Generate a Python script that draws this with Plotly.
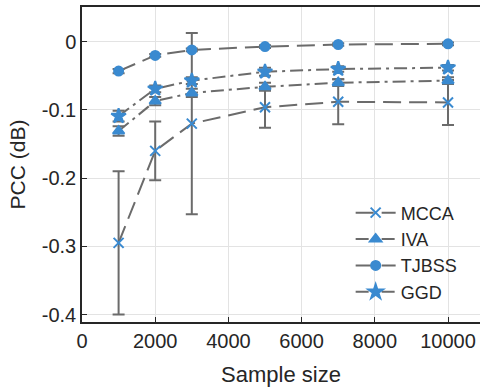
import plotly.graph_objects as go

sample_sizes = [1000, 2000, 3000, 5000, 7000, 10000]

mcca = [-0.295, -0.160, -0.120, -0.096, -0.088, -0.089]
mcca_err = [0.105, 0.043, 0.133, 0.030, 0.033, 0.033]

iva = [-0.131, -0.087, -0.075, -0.066, -0.060, -0.057]
iva_err = [0.007, 0.006, 0.006, 0.006, 0.005, 0.005]

tjbss = [-0.043, -0.020, -0.012, -0.007, -0.004, -0.003]
tjbss_err = [0.003, 0.002, 0.002, 0.002, 0.002, 0.002]

ggd = [-0.109, -0.069, -0.057, -0.044, -0.040, -0.038]
ggd_err = [0.008, 0.005, 0.005, 0.006, 0.004, 0.004]

y_ticks = [0, -0.1, -0.2, -0.3, -0.4]
y_tick_labels = ["0", "-0.1", "-0.2", "-0.3", "-0.4"]
x_ticks = [0, 2000, 4000, 6000, 8000, 10000]
x_tick_labels = ["0", "2000", "4000", "6000", "8000", "10000"]

BLUE = "#3a8ad0"
GRAY = "#6b6b6b"
DASH = "18px,8px"
DASHDOT = "13px,5px,3px,5px"

series = [
    ("MCCA", mcca, mcca_err, "x-thin-open", 10, DASH),
    ("IVA", iva, iva_err, "triangle-up", 10, DASHDOT),
    ("TJBSS", tjbss, tjbss_err, "circle", 9, DASH),
    ("GGD", ggd, ggd_err, "star", 11, DASHDOT),
]

fig = go.Figure()
for name, vals, errs, sym, size, dash in series:
    fig.add_trace(go.Scatter(
        x=sample_sizes, y=vals, name=name, mode="lines+markers",
        line=dict(color=GRAY, width=2, dash=dash),
        marker=dict(symbol=sym, size=size, color=BLUE,
                    line=dict(color=BLUE, width=2)),
        error_y=dict(type="data", array=errs, visible=True,
                     color=GRAY, thickness=2, width=6),
    ))

font_family = "Liberation Sans, Arial, sans-serif"
fig.update_layout(
    width=480, height=387,
    margin=dict(l=82, r=0, t=7, b=65),
    paper_bgcolor="white", plot_bgcolor="white",
    font=dict(family=font_family, size=20, color="#262626"),
    showlegend=True,
    legend=dict(x=0.675, y=0.405, xanchor="left", yanchor="top",
                bgcolor="rgba(0,0,0,0)", borderwidth=0,
                font=dict(size=18), tracegroupgap=0, itemwidth=40),
    xaxis=dict(
        range=[0, 10874], tickvals=x_ticks, ticktext=x_tick_labels,
        ticks="inside", ticklen=5, automargin=False,
        tickcolor="#262626", showgrid=True, gridcolor="#e3e3e3", gridwidth=1,
        showline=True, linecolor="#262626", linewidth=1.5, mirror=True,
        zeroline=False,
        title=dict(text="Sample size", standoff=16, font=dict(size=22)),
    ),
    yaxis=dict(
        range=[-0.411, 0.051], tickvals=y_ticks, ticktext=y_tick_labels,
        ticks="inside", ticklen=5, tickcolor="#262626", automargin=False,
        showgrid=True, gridcolor="#e3e3e3", gridwidth=1,
        showline=True, linecolor="#262626", linewidth=1.5, mirror=False,
        zeroline=False,
        title=dict(text="PCC (dB)", standoff=10, font=dict(size=21)),
    ),
)

fig.write_html("out.html",
               config={"displayModeBar": False},
               post_script="document.body.style.margin='0px';")
